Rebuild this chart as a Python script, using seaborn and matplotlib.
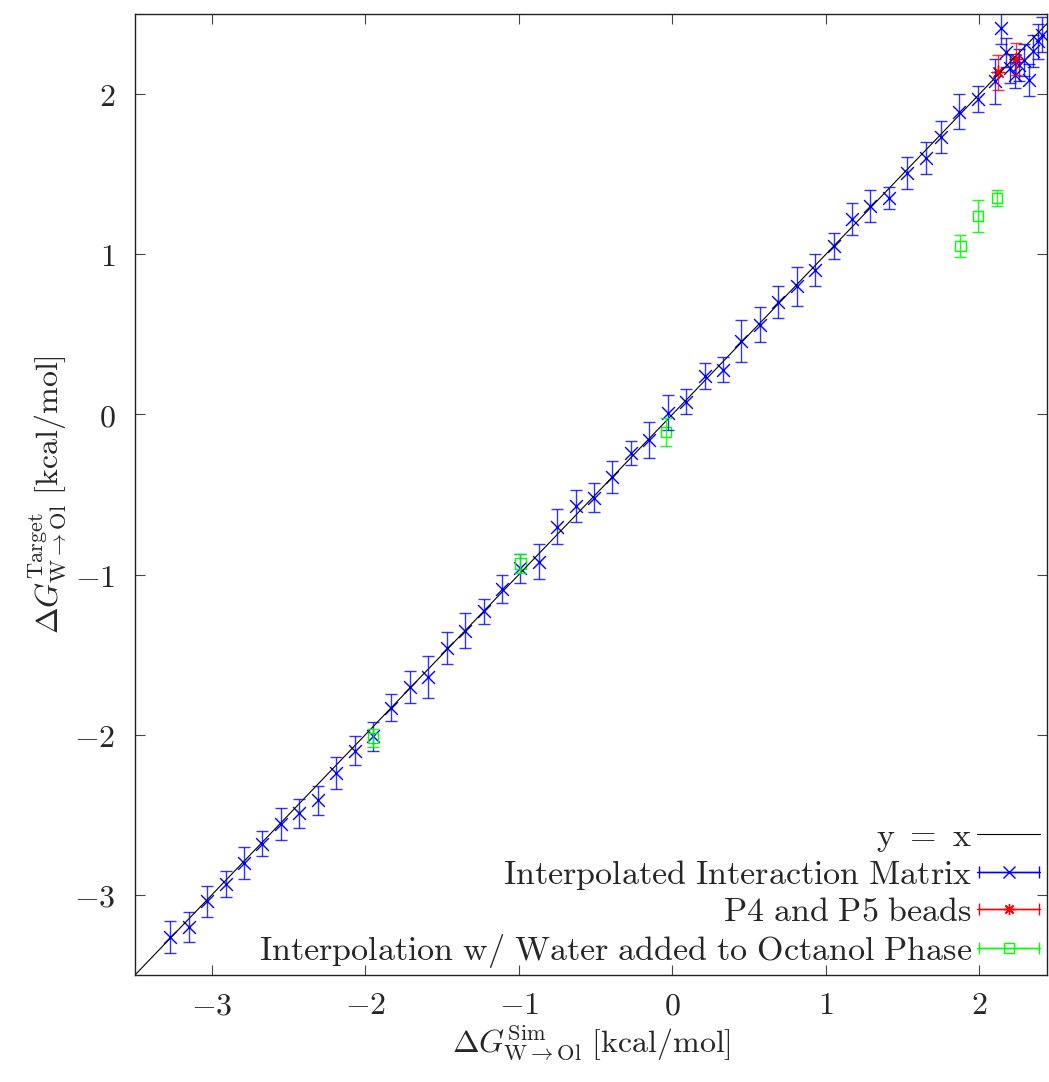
import matplotlib
matplotlib.use("Agg")
import matplotlib.pyplot as plt
from matplotlib.ticker import FixedLocator, FuncFormatter
from matplotlib.legend_handler import HandlerErrorbar
from matplotlib.container import ErrorbarContainer
import numpy as np
import pandas as pd
import seaborn as sns

# Interpolated interaction matrix (sim, target, error)
interp_sim = [-3.27, -3.15, -3.03, -2.91, -2.79, -2.67, -2.55, -2.43, -2.31, -2.19,
              -2.07, -1.95, -1.83, -1.71, -1.59, -1.47, -1.35, -1.23, -1.11, -0.99,
              -0.87, -0.75, -0.63, -0.51, -0.39, -0.27, -0.15, -0.03, 0.09, 0.21,
              0.33, 0.45, 0.57, 0.69, 0.81, 0.93, 1.05, 1.17, 1.29, 1.41,
              1.53, 1.65, 1.75, 1.87, 1.99,
              2.10, 2.14, 2.17, 2.20, 2.23, 2.26, 2.29, 2.32, 2.35, 2.38, 2.41]
interp_target = [-3.26, -3.20, -3.04, -2.93, -2.80, -2.68, -2.56, -2.49, -2.41, -2.24,
                 -2.10, -2.01, -1.83, -1.70, -1.64, -1.46, -1.35, -1.23, -1.09, -0.96,
                 -0.92, -0.70, -0.57, -0.52, -0.39, -0.24, -0.16, 0.01, 0.08, 0.24,
                 0.28, 0.46, 0.56, 0.70, 0.80, 0.90, 1.05, 1.22, 1.30, 1.35,
                 1.51, 1.60, 1.73, 1.89, 1.97,
                 2.08, 2.41, 2.26, 2.16, 2.12, 2.18, 2.21, 2.09, 2.27, 2.33, 2.37]
interp_err = [0.10, 0.095, 0.095, 0.08, 0.10, 0.08, 0.10, 0.09, 0.09, 0.10,
              0.09, 0.09, 0.085, 0.10, 0.13, 0.10, 0.11, 0.08, 0.09, 0.09,
              0.11, 0.11, 0.10, 0.09, 0.10, 0.075, 0.11, 0.11, 0.08, 0.08,
              0.08, 0.13, 0.11, 0.10, 0.12, 0.10, 0.08, 0.10, 0.10, 0.07,
              0.10, 0.10, 0.10, 0.11, 0.08,
              0.14, 0.10, 0.09, 0.09, 0.08, 0.10, 0.10, 0.10, 0.10, 0.11, 0.11]

# P4 and P5 beads
p45_sim = [2.12, 2.235]
p45_target = [2.135, 2.22]
p45_err = [0.11, 0.10]

# Interpolation with water added to octanol phase
water_sim = [-1.95, -0.99, -0.04, 1.876, 1.99, 2.115]
water_target = [-2.02, -0.93, -0.11, 1.05, 1.24, 1.35]
water_err = [0.055, 0.06, 0.09, 0.07, 0.10, 0.05]

ticks = [-3, -2, -1, 0, 1, 2]
xlim = (-3.5, 2.44)
ylim = (-3.5, 2.5)

sns.set_theme(style="ticks")
plt.rcParams["mathtext.fontset"] = "cm"
plt.rcParams["font.family"] = ["DejaVu Serif"]

fig = plt.figure(figsize=(10.49, 10.82), dpi=100)
ax = fig.add_axes([135 / 1049, 1 - 975 / 1082, 912 / 1049, 961 / 1082])

blue = "#0000ff"
red = "#ff0000"
green = "#00ff00"
fs = 23

# y = x reference line
line_df = pd.DataFrame({"x": list(xlim), "y": list(xlim)})
sns.lineplot(data=line_df, x="x", y="y", color="black", lw=0.8, ax=ax, legend=False)

groups = [
    (interp_sim, interp_target, interp_err, blue, "x", 0.8),
    (p45_sim, p45_target, p45_err, red, (8, 2, 0), 0.8),
    (water_sim, water_target, water_err, green, "s", 0.9),
]
for xs, ys, es, col, mk, a in groups:
    ax.errorbar(xs, ys, yerr=es, fmt="none", ecolor=col, elinewidth=1.0,
                capsize=4.2, capthick=1.0, alpha=a)
    df = pd.DataFrame({"x": xs, "y": ys})
    if mk == "s":
        sns.scatterplot(data=df, x="x", y="y", marker="s", s=55, facecolors="none",
                        edgecolor=col, linewidth=1.0, ax=ax, legend=False)
    else:
        sns.scatterplot(data=df, x="x", y="y", marker=mk, s=85, color=col,
                        linewidth=1.0, ax=ax, legend=False)

# legend proxies (gnuplot-style horizontal samples)
h_line, = ax.plot([], [], color="black", lw=0.8)
h_blue = ax.errorbar([np.nan], [np.nan], xerr=[1], color=blue, marker="x", ms=8,
                     lw=1.0, capsize=4, mew=1.0)
h_red = ax.errorbar([np.nan], [np.nan], xerr=[1], color=red, marker=(8, 2, 0), ms=8,
                    lw=1.0, capsize=4, mew=1.0)
h_green = ax.errorbar([np.nan], [np.nan], xerr=[1], color=green, marker="s", ms=6.5,
                      mfc="none", lw=1.0, capsize=4, mew=1.0)

labels = [r"$\mathrm{y}\ {=}\ \mathrm{x}$",
          r"$\mathrm{Interpolated\ Interaction\ Matrix}$",
          r"$\mathrm{P4\ and\ P5\ beads}$",
          r"$\mathrm{Interpolation\ w/\ Water\ added\ to\ Octanol\ Phase}$"]
ax.legend([h_line, h_blue, h_red, h_green], labels, loc="lower right",
          bbox_to_anchor=(1.015, -0.016), markerfirst=False, frameon=False,
          fontsize=24.5, handlelength=1.85, handletextpad=0.15, labelspacing=0.12,
          borderaxespad=0.2,
          handler_map={ErrorbarContainer: HandlerErrorbar(xerr_size=0.88)})

ax.set_xlim(*xlim)
ax.set_ylim(*ylim)
ax.xaxis.set_major_locator(FixedLocator(ticks))
ax.yaxis.set_major_locator(FixedLocator(ticks))
fmt = FuncFormatter(lambda v, p: f"${v:g}$")
ax.xaxis.set_major_formatter(fmt)
ax.yaxis.set_major_formatter(fmt)
ax.tick_params(direction="in", length=7, width=0.8, color="#444444",
               top=True, right=True, labelsize=fs)
ax.tick_params(axis="x", pad=11)
ax.tick_params(axis="y", pad=14)
for s in ax.spines.values():
    s.set_color("#222222")
    s.set_linewidth(1.0)

ax.set_xlabel(r"$\Delta G^{\mathrm{Sim}}_{\mathrm{W}\rightarrow\mathrm{Ol}}\ [\mathrm{kcal/mol}]$",
              fontsize=fs, labelpad=2)
ax.set_ylabel(r"$\Delta G^{\mathrm{Target}}_{\mathrm{W}\rightarrow\mathrm{Ol}}\ [\mathrm{kcal/mol}]$",
              fontsize=fs, labelpad=4)

fig.savefig("out.png", dpi=100)
